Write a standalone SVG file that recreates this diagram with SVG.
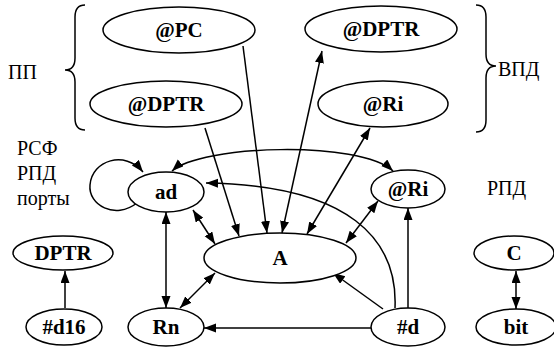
<svg xmlns="http://www.w3.org/2000/svg" width="554" height="348" viewBox="0 0 554 348">
<defs>
<marker id="ah" markerUnits="userSpaceOnUse" markerWidth="13" markerHeight="10" refX="12" refY="4.5" orient="auto-start-reverse"><path d="M0,0 L12,4.5 L0,9 z" fill="#000"/></marker>
</defs>
<rect width="554" height="348" fill="#fff"/>
<g fill="none" stroke="#000" stroke-width="1.5">
<path d="M85 5 Q75 5 75 17 L75 58 Q75 70 65 70 Q75 70 75 82 L75 118 Q75 130 85 130"/>
<path d="M476 5 Q486 5 486 17 L486 54 Q486 66 496 66 Q486 66 486 78 L486 120 Q486 132 476 132"/>
</g>
<text x="8" y="79" font-family="Liberation Serif" font-size="20">ПП</text>
<text x="498" y="76" font-family="Liberation Serif" font-size="20">ВПД</text>
<text x="17" y="155" font-family="Liberation Serif" font-size="20">РСФ</text>
<text x="17" y="180" font-family="Liberation Serif" font-size="20">РПД</text>
<text x="17" y="205" font-family="Liberation Serif" font-size="20">порты</text>
<text x="487" y="195" font-family="Liberation Serif" font-size="20">РПД</text>
<g id="connectors" fill="none" stroke="#000" stroke-width="1.5">
<line marker-end="url(#ah)" x1="243" y1="46" x2="267" y2="233"/>
<line marker-end="url(#ah)" x1="205" y1="128" x2="239" y2="236"/>
<line marker-start="url(#ah)" marker-end="url(#ah)" x1="282" y1="233" x2="322" y2="51"/>
<line marker-start="url(#ah)" marker-end="url(#ah)" x1="307" y1="234" x2="370" y2="128"/>
<line marker-start="url(#ah)" marker-end="url(#ah)" x1="378" y1="201" x2="346" y2="243"/>
<line marker-start="url(#ah)" marker-end="url(#ah)" x1="193" y1="210" x2="215" y2="244"/>
<line marker-start="url(#ah)" marker-end="url(#ah)" x1="180" y1="308" x2="215" y2="273"/>
<line marker-start="url(#ah)" marker-end="url(#ah)" x1="166" y1="212" x2="166" y2="308"/>
<line marker-end="url(#ah)" x1="383" y1="309" x2="333" y2="273"/>
<line marker-end="url(#ah)" x1="371" y1="328" x2="204" y2="328"/>
<line marker-end="url(#ah)" x1="408" y1="308" x2="408" y2="208"/>
<line marker-end="url(#ah)" x1="65" y1="308" x2="65" y2="271"/>
<line marker-start="url(#ah)" marker-end="url(#ah)" x1="516" y1="271" x2="516" y2="309"/>
<path marker-end="url(#ah)" d="M395 308 C398 240 350 185 206 183"/>
<path marker-start="url(#ah)" marker-end="url(#ah)" d="M172 171 C200 145 360 140 393 171"/>
<path marker-end="url(#ah)" d="M137 203 C115 220 88 205 90 185 C92 160 125 150 143 172"/>
</g>
<g fill="#fff" stroke="#000" stroke-width="1.5">
<g id="n-pc"><ellipse cx="179" cy="30" rx="76" ry="23"/></g>
<g id="n-dptr1"><ellipse cx="166" cy="104" rx="76" ry="23"/></g>
<g id="n-dptr2"><ellipse cx="381" cy="29" rx="76" ry="23"/></g>
<g id="n-ri1"><ellipse cx="383" cy="104" rx="65" ry="23"/></g>
<g id="n-ad"><ellipse cx="166" cy="192" rx="38" ry="20"/></g>
<g id="n-ri2"><ellipse cx="408" cy="189" rx="37" ry="19"/></g>
<g id="n-a"><ellipse cx="280" cy="258" rx="76" ry="25"/></g>
<g id="n-dptr"><ellipse cx="63" cy="253" rx="50" ry="17"/></g>
<g id="n-c"><ellipse cx="514" cy="253" rx="40" ry="17"/></g>
<g id="n-d16"><ellipse cx="64" cy="327" rx="38" ry="18"/></g>
<g id="n-rn"><ellipse cx="166" cy="327" rx="38" ry="19"/></g>
<g id="n-d"><ellipse cx="408" cy="327" rx="37" ry="19"/></g>
<g id="n-bit"><ellipse cx="516" cy="327" rx="40" ry="18"/></g>
</g>
<text x="179" y="37" font-family="Liberation Serif" font-size="21" font-weight="bold" text-anchor="middle">@PC</text>
<text x="166" y="111" font-family="Liberation Serif" font-size="21" font-weight="bold" text-anchor="middle">@DPTR</text>
<text x="381" y="36" font-family="Liberation Serif" font-size="21" font-weight="bold" text-anchor="middle">@DPTR</text>
<text x="383" y="111" font-family="Liberation Serif" font-size="21" font-weight="bold" text-anchor="middle">@Ri</text>
<text x="166" y="199" font-family="Liberation Serif" font-size="21" font-weight="bold" text-anchor="middle">ad</text>
<text x="408" y="196" font-family="Liberation Serif" font-size="21" font-weight="bold" text-anchor="middle">@Ri</text>
<text x="280" y="265" font-family="Liberation Serif" font-size="21" font-weight="bold" text-anchor="middle">A</text>
<text x="63" y="260" font-family="Liberation Serif" font-size="21" font-weight="bold" text-anchor="middle">DPTR</text>
<text x="514" y="260" font-family="Liberation Serif" font-size="21" font-weight="bold" text-anchor="middle">C</text>
<text x="64" y="334" font-family="Liberation Serif" font-size="21" font-weight="bold" text-anchor="middle">#d16</text>
<text x="166" y="334" font-family="Liberation Serif" font-size="21" font-weight="bold" text-anchor="middle">Rn</text>
<text x="408" y="334" font-family="Liberation Serif" font-size="21" font-weight="bold" text-anchor="middle">#d</text>
<text x="516" y="334" font-family="Liberation Serif" font-size="21" font-weight="bold" text-anchor="middle">bit</text>
</svg>
